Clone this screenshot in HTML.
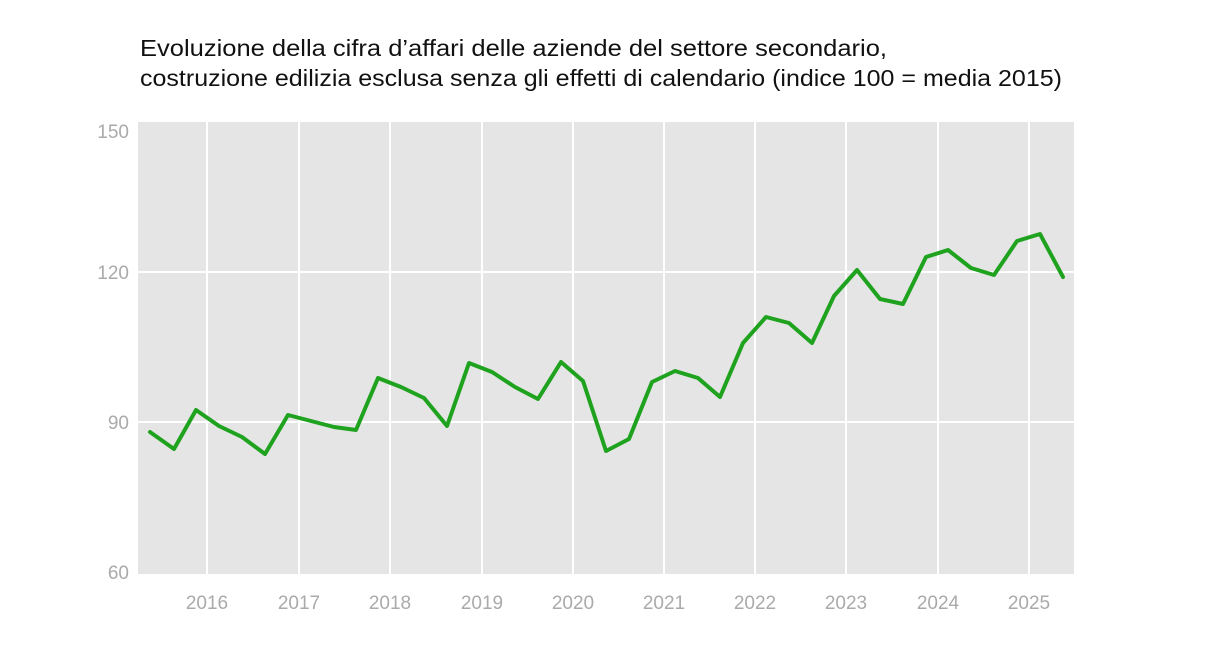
<!DOCTYPE html>
<html><head><meta charset="utf-8"><style>
html,body{margin:0;padding:0;background:#fff;width:1213px;height:645px;overflow:hidden}
svg{display:block}
</style></head><body>
<svg width="1213" height="645" viewBox="0 0 1213 645" xmlns="http://www.w3.org/2000/svg" font-family="Liberation Sans, Arial, sans-serif">
<text x="140" y="56" font-size="23" fill="#111" textLength="747" lengthAdjust="spacingAndGlyphs">Evoluzione della cifra d’affari delle aziende del settore secondario,</text>
<text x="140" y="86" font-size="23" fill="#111" textLength="922" lengthAdjust="spacingAndGlyphs">costruzione edilizia esclusa senza gli effetti di calendario (indice 100 = media 2015)</text>
<rect x="138" y="122" width="936" height="452" fill="#e5e5e5"/>
<g stroke="#fff" stroke-width="2">
<line x1="138" y1="272" x2="1074" y2="272"/>
<line x1="138" y1="422" x2="1074" y2="422"/>
<line x1="207" y1="122" x2="207" y2="574"/>
<line x1="299" y1="122" x2="299" y2="574"/>
<line x1="390" y1="122" x2="390" y2="574"/>
<line x1="482" y1="122" x2="482" y2="574"/>
<line x1="573" y1="122" x2="573" y2="574"/>
<line x1="664" y1="122" x2="664" y2="574"/>
<line x1="755" y1="122" x2="755" y2="574"/>
<line x1="846" y1="122" x2="846" y2="574"/>
<line x1="938" y1="122" x2="938" y2="574"/>
<line x1="1029" y1="122" x2="1029" y2="574"/>
</g>
<g font-size="19" fill="#aaa" text-anchor="end">
<text x="129" y="138">150</text>
<text x="129" y="279">120</text>
<text x="129" y="429">90</text>
<text x="129" y="579">60</text>
</g>
<g font-size="19" fill="#aaa" text-anchor="middle">
<text x="207" y="609">2016</text><text x="299" y="609">2017</text><text x="390" y="609">2018</text>
<text x="482" y="609">2019</text><text x="573" y="609">2020</text><text x="664" y="609">2021</text>
<text x="755" y="609">2022</text><text x="846" y="609">2023</text><text x="938" y="609">2024</text>
<text x="1029" y="609">2025</text>
</g>
<polyline fill="none" stroke="#1fa31f" stroke-width="4" stroke-linejoin="round" stroke-linecap="round" points="150,432 174,449 196,410 219,426 242,437 265,454 288,415 311,421 334,427 356,430 378,378 401,387 424,398 447,426 469,363 492,372 515,387 538,399 561,362 583,381 606,451 629,439 652,382 675,371 698,378 720,397 743,343 766,317 789,323 812,343 834,296 857,270 880,299 903,304 926,257 948,250 971,268 994,275 1017,241 1040,234 1063,277"/>
</svg>
</body></html>
